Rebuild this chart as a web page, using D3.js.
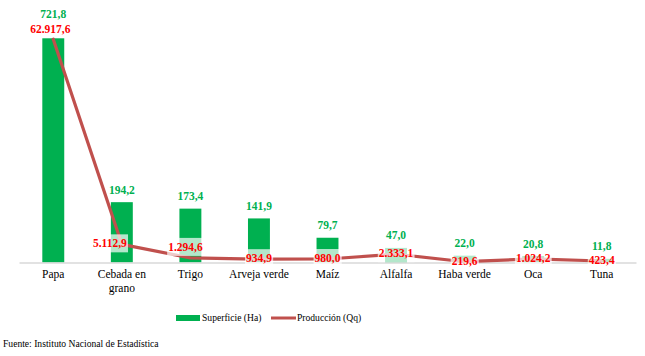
<!DOCTYPE html>
<html><head><meta charset="utf-8">
<script src="https://cdn.jsdelivr.net/npm/d3@7"></script>
<style>
html,body{margin:0;padding:0;background:#fff;}
svg{display:block;}
</style></head>
<body><svg id="c" width="645" height="356"></svg>
<script>
const categories = ["Papa","Cebada en grano","Trigo","Arveja verde","Maíz","Alfalfa","Haba verde","Oca","Tuna"];
const superficie = [721.8,194.2,173.4,141.9,79.7,47.0,22.0,20.8,11.8];
const produccion = [62917.6,5112.9,1294.6,934.9,980.0,2333.1,219.6,1024.2,423.4];
const seriesNames = ["Superficie (Ha)","Producción (Qq)"];
const source = "Fuente: Instituto Nacional de Estadística";

const fmt = v => {
  const s = v.toFixed(1).split(".");
  return s[0].replace(/\B(?=(\d{3})+(?!\d))/g, ".") + "," + s[1];
};

const FONT = "'Liberation Serif', 'DejaVu Serif', 'Liberation Sans Narrow', serif";

const svg = d3.select("#c").attr("font-family", FONT);
const plotL = 19, plotR = 636, plotT = 14, base = 262.5;
const x = d3.scaleBand().domain(categories).range([plotL, plotR]).paddingInner(0.68).paddingOuter(0.34);
const yBar = d3.scaleLinear().domain([0, 800]).range([base, plotT]);
const yLine = d3.scaleLinear().domain([0, 70000]).range([base, plotT]);
const green = "#00B050", red = "#C0504D", redText = "#FF0000";
const cx = c => x(c) + x.bandwidth() / 2;

// bars
svg.append("g").selectAll("rect").data(categories).join("rect")
  .attr("x", d => x(d)).attr("width", x.bandwidth())
  .attr("y", (d, i) => yBar(superficie[i]))
  .attr("height", (d, i) => base - yBar(superficie[i]))
  .attr("fill", green);

// axis line
const xAxis = d3.axisBottom(x).tickSize(0).tickPadding(7);
const ax = svg.append("g").attr("transform", `translate(0,${base})`).call(xAxis).attr("font-family", FONT);
ax.select(".domain").attr("stroke", "#D9D9D9").attr("stroke-width", 1.3);
ax.selectAll(".tick text").attr("font-size", "11.5px").attr("fill", "#000")
  .each(function(d) {
    const t = d3.select(this);
    const words = d.split(" ");
    const maxW = x.step() * 0.95;
    t.text(null);
    let lines = [], cur = [];
    const probe = t.append("tspan");
    words.forEach(wd => {
      const tryS = cur.concat([wd]).join(" ");
      probe.text(tryS);
      if (probe.node().getComputedTextLength() > maxW && cur.length) { lines.push(cur.join(" ")); cur = [wd]; }
      else cur.push(wd);
    });
    lines.push(cur.join(" "));
    probe.remove();
    lines.forEach((l, k) => t.append("tspan").attr("x", 0).attr("dy", k === 0 ? "0.71em" : "1.25em").text(l));
  });

// line
const line = d3.line().x((d, i) => cx(categories[i])).y(d => yLine(d));
svg.append("path").datum(produccion).attr("d", line)
  .attr("fill", "none").attr("stroke", red).attr("stroke-width", 3.2)
  .attr("stroke-linejoin", "round").attr("stroke-linecap", "round");

// production labels (with translucent white box)
const redOffset = {"Papa": [-3, -10], "Cebada en grano": [-12, -1], "Trigo": [-5, -11]};
const lg = svg.append("g");
categories.forEach((c, i) => {
  const off = redOffset[c] || [0, -1];
  const px = cx(c) + off[0], py = yLine(produccion[i]) + off[1];
  const g = lg.append("g");
  const t = g.append("text").attr("x", px).attr("y", py).attr("dy", "0.35em")
    .attr("text-anchor", "middle").attr("font-size", "11.5px").attr("font-weight", "bold")
    .attr("fill", redText).text(fmt(produccion[i]));
  if (c !== "Papa") {
    const b = t.node().getBBox();
    g.insert("rect", "text").attr("x", b.x - 1).attr("y", py - 9).attr("width", b.width + 2).attr("height", 18)
      .attr("fill", "#fff").attr("fill-opacity", 0.7);
  }
});

// superficie labels
svg.append("g").selectAll("text").data(categories).join("text")
  .attr("x", d => cx(d))
  .attr("y", (d, i) => i === 0 ? yLine(produccion[0]) - 25 : yBar(superficie[i]) - 12.5)
  .attr("dy", "0.35em").attr("text-anchor", "middle")
  .attr("font-size", "11.5px").attr("font-weight", "bold").attr("fill", green)
  .text((d, i) => fmt(superficie[i]));

// legend
const leg = svg.append("g").attr("font-size", "9.6px");
leg.append("rect").attr("x", 176).attr("y", 315).attr("width", 24).attr("height", 6).attr("fill", green);
leg.append("text").attr("x", 202).attr("y", 318).attr("dy", "0.35em").text(seriesNames[0]);
leg.append("line").attr("x1", 271).attr("x2", 296).attr("y1", 318).attr("y2", 318)
  .attr("stroke", red).attr("stroke-width", 3);
leg.append("text").attr("x", 297).attr("y", 318).attr("dy", "0.35em").text(seriesNames[1]);

svg.append("text").attr("x", 3).attr("y", 344).attr("dy", "0.35em").attr("font-size", "9.6px").text(source);
</script></body></html>
